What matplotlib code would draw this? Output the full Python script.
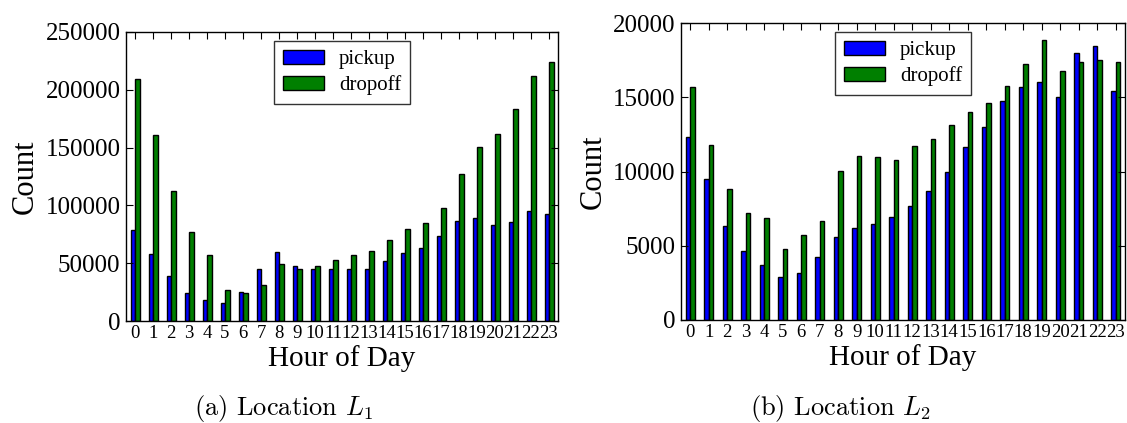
import numpy as np
import matplotlib
matplotlib.use("Agg")
import matplotlib.pyplot as plt

plt.rcParams["font.family"] = ["Liberation Serif", "DejaVu Serif"]
plt.rcParams["mathtext.fontset"] = "cm"

hours = list(range(24))
hour_labels = [str(h) for h in hours]

# location L1
pickup_l1 = [78700, 58000, 39200, 24500, 18200, 15600, 24800, 45000, 59400, 47800,
             45000, 45000, 45000, 45000, 52200, 58800, 62900, 73200, 86200, 89400,
             83000, 85600, 95200, 92800]
dropoff_l1 = [209000, 160600, 112700, 76700, 57100, 27100, 24000, 31100, 49000, 45000,
              47800, 53000, 57100, 60500, 70000, 79600, 84800, 97500, 127400, 150800,
              161500, 183100, 212200, 224300]

# location L2
pickup_l2 = [12290, 9470, 6300, 4640, 3680, 2920, 3140, 4240, 5610, 6190,
             6460, 6910, 7670, 8700, 10000, 11620, 12970, 14780, 15680, 16060,
             15010, 17990, 18440, 15410]
dropoff_l2 = [15660, 11800, 8820, 7220, 6890, 4760, 5720, 6640, 10050, 11040,
              10970, 10750, 11730, 12180, 13150, 13980, 14630, 15790, 17270, 18870,
              16760, 17360, 17520, 17380]

W, H = 1127, 423
fig = plt.figure(figsize=(W / 100, H / 100), dpi=100)


def draw(rect, pickup, dropoff, ymax, yticks, caption, cap_x):
    ax = fig.add_axes(rect)
    x = np.array(hours)
    w = 0.25
    ax.bar(x - w, pickup, w, align="edge", color="#0000ff", edgecolor="black",
           linewidth=1, label="pickup")
    ax.bar(x, dropoff, w, align="edge", color="#007f00", edgecolor="black",
           linewidth=1, label="dropoff")
    ax.set_xlim(-0.5, 23.5)
    ax.set_ylim(0, ymax)
    ax.set_xticks(x)
    ax.set_xticklabels(hour_labels, fontsize=13.5)
    ax.set_yticks(yticks)
    ax.set_yticklabels([str(v) for v in yticks], fontsize=18)
    ax.tick_params(direction="in", top=True, right=True, length=5, width=0.8, pad=4)
    ax.tick_params(axis="x", pad=3)
    for s in ax.spines.values():
        s.set_linewidth(1.0)
    ax.set_xlabel("Hour of Day", fontsize=21, labelpad=2)
    ax.set_ylabel("Count", fontsize=22, labelpad=4)
    leg = ax.legend(loc="upper center", fontsize=15, frameon=True, fancybox=False,
                    handlelength=2.0, handleheight=0.7, borderpad=0.4,
                    labelspacing=0.3, handletextpad=0.7, borderaxespad=0.45)
    leg.get_frame().set_edgecolor("black")
    leg.get_frame().set_linewidth(1.0)
    fig.text(cap_x, 1 - 408 / H, caption, ha="center", va="center",
             fontsize=19, family="cmr10")
    return ax


draw([126 / W, 1 - 321 / H, 432 / W, 289 / H], pickup_l1, dropoff_l1,
     250000, [0, 50000, 100000, 150000, 200000, 250000],
     r"(a) Location $L_1$", 284 / W)
draw([681 / W, 1 - 320 / H, 444 / W, 297 / H], pickup_l2, dropoff_l2,
     20000, [0, 5000, 10000, 15000, 20000],
     r"(b) Location $L_2$", 840 / W)

fig.savefig("out.png", dpi=100)
